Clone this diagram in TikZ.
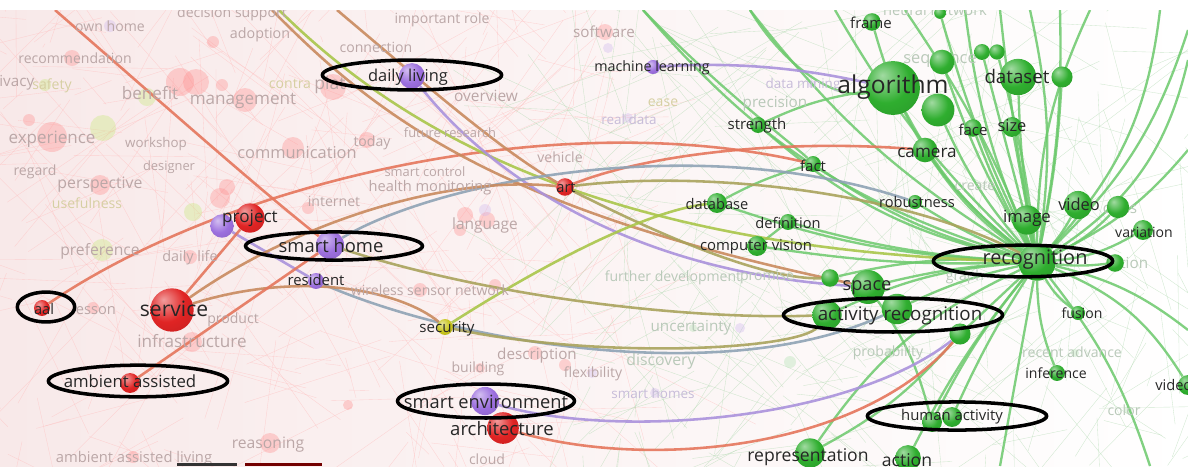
\documentclass[tikz,border=0pt]{standalone}
\usepackage{fontspec}
\setmainfont{Open Sans}
\usetikzlibrary{shapes.geometric}
\pgfdeclarelayer{back}
\pgfdeclarelayer{links}
\pgfsetlayers{back,links,main}

\newcommand{\tsz}[1]{\fontsize{#1}{#1}\selectfont}

\definecolor{vred}{HTML}{E02424}
\definecolor{vpur}{HTML}{9C6FDE}
\definecolor{vgrn}{HTML}{2FAE2F}
\definecolor{vyel}{HTML}{C9C51E}
\definecolor{ink}{HTML}{262626}
\definecolor{fadred}{HTML}{BBA7A7}
\definecolor{fadyel}{HTML}{D6CFA2}
\definecolor{fadgrn}{HTML}{B9C9B9}
\definecolor{fadpur}{HTML}{C7BCD9}
\definecolor{lred}{HTML}{E5765C}
\definecolor{lbrown}{HTML}{C98A5E}
\definecolor{lolive}{HTML}{A9A35C}
\definecolor{lyg}{HTML}{A9C64A}
\definecolor{lpur}{HTML}{AA92DC}
\definecolor{lblue}{HTML}{8FA3B5}
\definecolor{lgrn}{HTML}{6CC96C}
\definecolor{bgpink}{HTML}{F8E9E9}
\definecolor{bggreen}{HTML}{EFF5EC}

% soft balls, lighter than tikz's ball color
\pgfdeclareradialshading{redsh}{\pgfpoint{-10bp}{12bp}}{color(0bp)=(vred!45!white); color(22bp)=(vred); color(55bp)=(vred!80!black); color(70bp)=(vred!80!black)}
\pgfdeclareradialshading{pursh}{\pgfpoint{-10bp}{12bp}}{color(0bp)=(vpur!45!white); color(22bp)=(vpur); color(55bp)=(vpur!80!black); color(70bp)=(vpur!80!black)}
\pgfdeclareradialshading{grnsh}{\pgfpoint{-10bp}{12bp}}{color(0bp)=(vgrn!45!white); color(22bp)=(vgrn); color(55bp)=(vgrn!80!black); color(70bp)=(vgrn!80!black)}
\pgfdeclareradialshading{yelsh}{\pgfpoint{-10bp}{12bp}}{color(0bp)=(vyel!45!white); color(22bp)=(vyel); color(55bp)=(vyel!80!black); color(70bp)=(vyel!80!black)}

\tikzstyle{rball} = [circle, inner sep=0pt, shade, shading=redsh]
\tikzstyle{pball} = [circle, inner sep=0pt, shade, shading=pursh]
\tikzstyle{gball} = [circle, inner sep=0pt, shade, shading=grnsh]
\tikzstyle{yball} = [circle, inner sep=0pt, shade, shading=yelsh]
\tikzstyle{lbl} = [inner sep=0pt, text=ink, font=\tsz{12.5}]
\tikzstyle{fad} = [inner sep=0pt, text=fadred]
\tikzstyle{ring} = [ellipse, draw=black, line width=3pt, inner sep=0pt]
\tikzstyle{link} = [draw, line width=2.2pt, opacity=.9]
\tikzstyle{glink} = [draw=lgrn, line width=2pt, opacity=.85]

\begin{document}
\begin{tikzpicture}[x=0.03cm, y=-0.03cm]
	\useasboundingbox (0,0) rectangle (1188,466);

	% background and faint web
	\begin{pgfonlayer}{back}
	\shade[left color=bgpink, middle color=bggreen, right color=white] (0,10) rectangle (1188,466);
	\pgfmathsetseed{11}
	\foreach \i in {1,...,320} {
		\pgfmathsetmacro\xa{rnd*620}
		\pgfmathsetmacro\ya{10+rnd*456}
		\pgfmathsetmacro\xb{\xa+(rnd-0.5)*320}
		\pgfmathsetmacro\yb{\ya+(rnd-0.5)*320}
		\draw[red!25, line width=0.3pt, opacity=.6] (\xa,\ya) -- (\xb,\yb);
	}
	\foreach \i in {1,...,260} {
		\pgfmathsetmacro\xa{560+rnd*628}
		\pgfmathsetmacro\ya{10+rnd*456}
		\pgfmathsetmacro\xb{\xa+(rnd-0.5)*360}
		\pgfmathsetmacro\yb{\ya+(rnd-0.5)*360}
		\draw[green!35!gray!45, line width=0.3pt, opacity=.6] (\xa,\ya) -- (\xb,\yb);
	}
	% faded items
	\foreach \x/\y/\r in {72/58/8, 180/82/14, 196/82/13, 222/85/6, 245/100/12, 52/137/15, 29/120/6, 293/148/11,
		333/87/13, 367/140/8, 213/42/6, 100/185/10, 227/187/8, 220/198/10, 190/257/7, 308/208/6, 93/308/6,
		192/342/10, 270/443/10, 348/405/5, 133/457/6, 465/215/8, 487/220/8, 460/230/6, 420/290/7, 495/285/6,
		535/353/7, 565/365/6, 480/368/5, 605/32/8}
		\fill[red!45, opacity=.35] (\x,\y) circle (\r);
	\foreach \x/\y/\r in {103/128/13, 147/97/9, 193/212/9, 102/250/11, 45/85/6}
		\fill[yellow!60!green!50, opacity=.4] (\x,\y) circle (\r);
	\foreach \x/\y/\r in {608/48/5, 485/210/6, 592/373/5, 655/393/5, 740/328/5, 628/118/5, 812/84/4, 110/26/6}
		\fill[vpur!50, opacity=.35] (\x,\y) circle (\r);
	\foreach \x/\y/\r in {693/328/4, 790/362/6, 1075/353/4, 1128/410/4, 890/353/5}
		\fill[vgrn!40, opacity=.35] (\x,\y) circle (\r);
	\end{pgfonlayer}

	\foreach \x/\y/\s/\t [count=\i] in {110/26/12/own home, 232/14/12/decision support, 260/35/12.2/adoption,
		376/47/12/connection, 442/20/12/important role, 75/58/12/recommendation, 9/83/13/privacy,
		150/93/14.6/benefit, 243/101/14.6/management, 330/85/15/plat, 52/139/14.5/experience,
		156/144/11.4/workshop, 297/153/14/communication, 372/143/12/today, 169/167/11/designer,
		35/172/12/regard, 100/185/13.5/perspective, 334/201/12/internet, 425/172/11/smart control,
		430/188/12.5/health monitoring, 560/157/12/vehicle, 450/133/11/future research, 486/96/13.2/overview,
		485/225/13.2/language, 100/251/13.4/preference, 190/258/12.3/daily life, 430/290/12/wireless sensor network,
		94/309/12.5/lesson, 233/320/12/product, 192/341/14.6/infrastructure, 537/356/13/description,
		478/369/12/building, 593/374/12/flexibility, 268/445/13.4/reasoning, 134/459/12.6/ambient assisted living,
		487/459/12/cloud, 604/32/13/software}
		\node[fad, font=\tsz{\s}] (fr\i) at (\x,\y) {\t};
	\foreach \x/\y/\s/\t [count=\i] in {52/86/12/safety, 290/84/12/contra, 87/203/12/usefulness, 663/103/12/ease}
		\node[fad, text=fadyel, font=\tsz{\s}] (fy\i) at (\x,\y) {\t};
	\foreach \x/\y/\s/\t [count=\i] in {661/361/13.5/discovery, 691/328/13/uncertainty, 673/278/12/further development,
		767/277/12/promise, 775/104/13/precision, 940/61/14/sequence, 935/10/12.5/neural network,
		975/186/12/create, 965/277/12/graph, 888/353/12/probability, 1072/352/12/recent advance,
		1124/410/12/color, 1120/208/13/class, 1130/263/13/ation}
		\node[fad, text=fadgrn, font=\tsz{\s}] (fg\i) at (\x,\y) {\t};
	\foreach \x/\y/\s/\t [count=\i] in {653/393/11.5/smart homes, 629/119/11.5/real data, 803/85/11.5/data mining}
		\node[fad, text=fadpur, font=\tsz{\s}] (fp\i) at (\x,\y) {\t};

	% Place nodes
	\node [rball, minimum size=13.6pt] (aal) at (42,308) {};
	\node [rball, minimum size=37pt] (service) at (172,310) {};
	\node [pball, minimum size=20pt] (projp) at (222,226) {};
	\node [rball, minimum size=25pt] (project) at (250,218) {};
	\node [rball, minimum size=17pt] (amb) at (130,383) {};
	\node [rball, minimum size=27pt] (arch) at (503,428) {};
	\node [rball, minimum size=15pt] (art) at (565,187) {};
	\node [pball, minimum size=22pt] (daily) at (412,76) {};
	\node [pball, minimum size=24pt] (home) at (330,245) {};
	\node [pball, minimum size=13.6pt] (resident) at (316,281) {};
	\node [pball, minimum size=12pt] (ml) at (653,67) {};
	\node [pball, minimum size=24pt] (senv) at (485,401) {};
	\node [yball, minimum size=13.6pt] (security) at (445,327) {};

	\node [gball, minimum size=46pt] (algo) at (893,88) {};
	\node [gball, minimum size=31pt] (dataset) at (1018,77) {};
	\node [gball, minimum size=18pt] (ds2) at (1062,77) {};
	\node [gball, minimum size=28pt] (g938) at (938,110) {};
	\node [gball, minimum size=21pt] (seq) at (942,62) {};
	\node [gball, minimum size=13.6pt] (g982) at (982,52) {};
	\node [gball, minimum size=13pt] (g997) at (997,52) {};
	\node [gball, minimum size=15pt] (frame) at (872,22) {};
	\node [gball, minimum size=10pt] (nn) at (940,13) {};
	\node [gball, minimum size=15pt] (face) at (973,128) {};
	\node [gball, minimum size=17pt] (size) at (1012,127) {};
	\node [gball, minimum size=21pt] (camera) at (925,150) {};
	\node [gball, minimum size=13.6pt] (strength) at (758,125) {};
	\node [gball, minimum size=13.6pt] (fact) at (813,164) {};
	\node [gball, minimum size=17pt] (database) at (717,203) {};
	\node [gball, minimum size=13.6pt] (definition) at (788,222) {};
	\node [gball, minimum size=17pt] (cv) at (757,246) {};
	\node [gball, minimum size=12pt] (robust) at (915,202) {};
	\node [gball, minimum size=25pt] (image) at (1027,220) {};
	\node [gball, minimum size=24pt] (video) at (1078,205) {};
	\node [gball, minimum size=19pt] (class) at (1118,207) {};
	\node [gball, minimum size=17pt] (variation) at (1143,230) {};
	\node [gball, minimum size=32pt] (recog) at (1037,262) {};
	\node [gball, minimum size=15pt] (g1113) at (1115,263) {};
	\node [gball, minimum size=29pt] (space) at (868,287) {};
	\node [gball, minimum size=15pt] (g830) at (830,278) {};
	\node [gball, minimum size=25pt] (acr1) at (827,315) {};
	\node [gball, minimum size=26pt] (acr2) at (897,309) {};
	\node [gball, minimum size=18pt] (acr3) at (960,334) {};
	\node [gball, minimum size=12pt] (fusion) at (1078,313) {};
	\node [gball, minimum size=13.6pt] (inference) at (1057,373) {};
	\node [gball, minimum size=17pt] (ha1) at (932,422) {};
	\node [gball, minimum size=17pt] (ha2) at (952,417) {};
	\node [gball, minimum size=25pt] (repr) at (810,453) {};
	\node [gball, minimum size=22pt] (action) at (908,458) {};
	\node [gball, minimum size=17pt] (video2) at (1188,385) {};

	\coordinate (t55) at (55,10);
	\coordinate (t272) at (272,10);
	\coordinate (t279) at (279,10);
	\coordinate (t337) at (337,10);
	\coordinate (t643) at (643,10);
	\coordinate (t750) at (750,10);
	\coordinate (t835) at (835,10);
	\coordinate (t900) at (905,10);
	\coordinate (t960) at (965,10);
	\coordinate (t1000) at (1000,10);
	\coordinate (t1030) at (1030,10);
	\coordinate (t1060) at (1060,10);
	\coordinate (t1090) at (1090,10);
	\coordinate (t1160) at (1160,10);
	\coordinate (r30) at (1188,30);
	\coordinate (r60) at (1188,60);
	\coordinate (r150) at (1188,150);
	\coordinate (r330) at (1188,330);
	\coordinate (b1000) at (1000,466);
	\coordinate (b1150) at (1150,466);

	% links
	\begin{pgfonlayer}{links}
	\foreach \n/\b in {algo/12, dataset/4, ds2/-4, g938/8, seq/6, frame/18, face/4, size/0, camera/10,
		strength/14, fact/10, database/8, definition/6, cv/5, robust/5, image/0, video/-6, class/-10,
		variation/-12, g1113/-6, space/-5, g830/-8, acr1/-10, acr2/-6, acr3/0, fusion/-12, inference/-10,
		ha1/-6, ha2/-4, repr/-15, action/-6, video2/18, nn/5, g982/0, g997/-4, t643/16, t750/10, t835/8,
		t900/-6, t960/8, t1000/2, t1030/-10, t1060/-6, t1090/12, t1160/-18, r30/-14, r60/-22, r150/-12,
		r330/12, b1000/0, b1150/10}
		\path [glink] (recog) to[bend left=\b] (\n);
	\path [glink] (t643) .. controls (720,90) and (800,150) .. (fact);
	\path [glink] (t750) .. controls (780,60) and (830,100) .. (algo);
	\path [glink] (strength) to[bend left=8] (algo);
	\path [glink] (database) to[bend left=6] (fact);
	\path [glink] (cv) -- (definition);
	\path [glink] (space) to[bend left=10] (ha1);
	\path [glink] (acr3) to[bend left=10] (repr);

	\path [link, lred] (aal) .. controls (230,180) and (560,105) .. (fact);
	\path [link, lred] (t55) .. controls (170,110) and (260,190) .. (home);
	\path [link, lbrown] (t272) .. controls (380,120) and (500,210) .. (space);
	\path [link, lyg] (t279) .. controls (400,130) and (600,250) .. (recog);
	\path [link, lbrown] (t337) .. controls (420,80) and (500,150) .. (art);
	\path [link, lred] (art) .. controls (660,150) and (800,140) .. (camera);
	\path [link, lolive] (art) .. controls (700,170) and (900,190) .. (recog);
	\path [link, lolive] (art) .. controls (650,230) and (760,280) .. (g830);
	\path [link, lpur] (daily) .. controls (470,150) and (600,270) .. (space);
	\path [link, lpur] (ml) .. controls (760,60) and (830,75) .. (algo);
	\path [link, lblue] (home) .. controls (440,180) and (700,130) .. (robust);
	\path [link, lolive] (home) .. controls (500,300) and (700,320) .. (acr1);
	\path [link, lpur] (projp) -- (resident);
	\path [link, lblue] (resident) .. controls (450,340) and (720,390) .. (acr2);
	\path [link, lyg] (security) .. controls (550,260) and (650,210) .. (database);
	\path [link, lolive] (security) .. controls (600,360) and (800,350) .. (acr1);
	\path [link, lbrown] (service) .. controls (300,220) and (450,175) .. (art);
	\path [link, lbrown] (service) .. controls (300,270) and (400,290) .. (security);
	\path [link, lred] (amb) -- (home);
	\path [link, lred] (service) -- (project);
	\path [link, lpur] (senv) .. controls (620,440) and (850,420) .. (acr3);
	\path [link, lred] (arch) .. controls (650,470) and (860,450) .. (acr3);
	\end{pgfonlayer}

	% labels
	\node [lbl] (t-aal) at (44,309) {aal};
	\node [lbl, font=\tsz{18}] (t-service) at (174,309) {service};
	\node [lbl, font=\tsz{14.6}] (t-project) at (250,218) {project};
	\node [lbl, font=\tsz{14.3}] (t-amb) at (130,381) {ambient assisted};
	\node [lbl, font=\tsz{15.8}] (t-arch) at (502,429) {architecture};
	\node [lbl] (t-art) at (566,188) {art};
	\node [lbl, font=\tsz{14}] (t-daily) at (408,77) {daily living};
	\node [lbl, font=\tsz{15.7}] (t-home) at (331,246) {smart home};
	\node [lbl, font=\tsz{12.7}] (t-resident) at (316,280) {resident};
	\node [lbl, font=\tsz{12.2}] (t-ml) at (652,68) {machine learning};
	\node [lbl, font=\tsz{15.6}] (t-senv) at (486,402) {smart environment};
	\node [lbl, font=\tsz{12.9}] (t-security) at (447,329) {security};
	\node [lbl, font=\tsz{21}] (t-algo) at (893,87) {algorithm};
	\node [lbl, font=\tsz{16}] (t-dataset) at (1017,76) {dataset};
	\node [lbl, font=\tsz{12.8}] (t-frame) at (871,23) {frame};
	\node [lbl, font=\tsz{12.8}] (t-face) at (973,130) {face};
	\node [lbl, font=\tsz{14}] (t-size) at (1012,126) {size};
	\node [lbl, font=\tsz{14.6}] (t-camera) at (927,153) {camera};
	\node [lbl, font=\tsz{12.8}] (t-strength) at (757,126) {strength};
	\node [lbl, font=\tsz{12.8}] (t-fact) at (813,166) {fact};
	\node [lbl] (t-database) at (717,204) {database};
	\node [lbl] (t-definition) at (788,223) {definition};
	\node [lbl, font=\tsz{12.7}] (t-cv) at (756,247) {computer vision};
	\node [lbl] (t-robust) at (917,202) {robustness};
	\node [lbl, font=\tsz{14.3}] (t-image) at (1027,218) {image};
	\node [lbl, font=\tsz{14}] (t-video) at (1079,204) {video};
	\node [lbl, font=\tsz{12}] (t-variation) at (1144,232) {variation};
	\node [lbl, font=\tsz{17}] (t-recog) at (1035,260) {recognition};
	\node [lbl, font=\tsz{15.5}] (t-space) at (867,288) {space};
	\node [lbl, font=\tsz{16}] (t-acr) at (900,316) {activity recognition};
	\node [lbl, font=\tsz{12}] (t-fusion) at (1082,313) {fusion};
	\node [lbl, font=\tsz{12}] (t-inference) at (1056,373) {inference};
	\node [lbl, font=\tsz{12.7}] (t-ha) at (952,417) {human activity};
	\node [lbl, font=\tsz{15}] (t-repr) at (808,457) {representation};
	\node [lbl, font=\tsz{15}] (t-action) at (907,460) {action};
	\node [lbl, anchor=west] (t-video2) at (1155,385) {video};

	% highlight rings
	\node [ring, minimum width=49pt, minimum height=25.5pt] (ring-aal) at (46,307) {};
	\node [ring, minimum width=153pt, minimum height=27pt] (ring-amb) at (138,381) {};
	\node [ring, minimum width=153pt, minimum height=25.5pt] (ring-daily) at (412,75) {};
	\node [ring, minimum width=151pt, minimum height=24pt] (ring-home) at (334,246) {};
	\node [ring, minimum width=151pt, minimum height=29pt] (ring-senv) at (486,401) {};
	\node [ring, minimum width=153pt, minimum height=27pt] (ring-recog) at (1023,261) {};
	\node [ring, minimum width=187pt, minimum height=29pt] (ring-acr) at (893,315) {};
	\node [ring, minimum width=153pt, minimum height=24pt] (ring-ha) at (957,416) {};

	% frame edges
	\fill[white] (0,0) rectangle (1188,10);
	\fill[black!80] (177,463) rectangle (237,466);
	\fill[red!45!black] (245,463) rectangle (322,466);
\end{tikzpicture}
\end{document}
